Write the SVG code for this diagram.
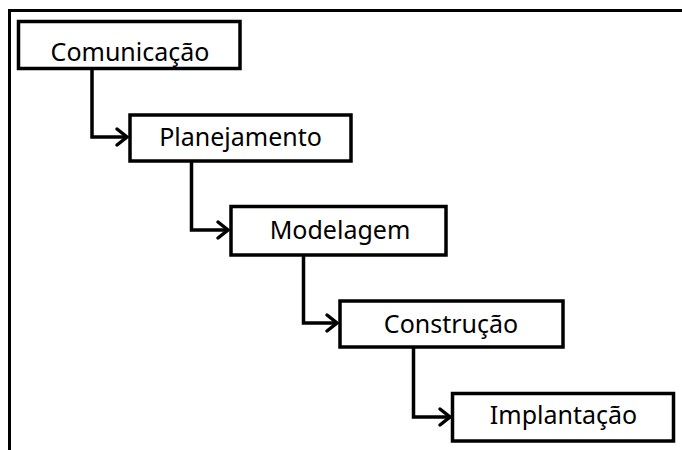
<svg xmlns="http://www.w3.org/2000/svg" width="682" height="450" viewBox="0 0 682 450">
<style>
.box{fill:#fff;stroke:#000;stroke-width:3.5}
.lbl{font-family:"Noto Sans","Open Sans",sans-serif;font-size:25px;fill:#000;text-anchor:middle}
.con{fill:none;stroke:#000;stroke-width:3.5;stroke-linejoin:miter}
.head{fill:none;stroke:#000;stroke-width:3.5;stroke-linecap:round;stroke-linejoin:miter}
</style>
<rect x="0" y="0" width="682" height="450" fill="#fff"/>
<path d="M9.5 450 V10.5 H682" fill="none" stroke="#000" stroke-width="3"/>
<g id="connectors">
<path class="con" d="M92 68.5 V137 H126"/>
<path class="head" d="M117 129 L127 137 L117 145"/>
<path class="con" d="M191.5 160 V230 H227"/>
<path class="head" d="M218 222 L228 230 L218 238"/>
<path class="con" d="M303.5 255 V323 H336"/>
<path class="head" d="M327 315 L337 323 L327 331"/>
<path class="con" d="M413.5 347 V417 H449"/>
<path class="head" d="M440 409 L450 417 L440 425"/>
</g>
<g id="n1"><rect class="box" x="18.5" y="21.5" width="221.5" height="47"/><text class="lbl" x="130" y="60.5">Comunicação</text></g>
<g id="n2"><rect class="box" x="130" y="115" width="221" height="46"/><text class="lbl" x="240.5" y="146">Planejamento</text></g>
<g id="n3"><rect class="box" x="231" y="206.5" width="215" height="48.5"/><text class="lbl" x="340" y="239">Modelagem</text></g>
<g id="n4"><rect class="box" x="340" y="301" width="223" height="46"/><text class="lbl" x="451" y="332.5">Construção</text></g>
<g id="n5"><rect class="box" x="452.5" y="393.5" width="221" height="47.5"/><text class="lbl" x="563.5" y="424">Implantação</text></g>
</svg>
